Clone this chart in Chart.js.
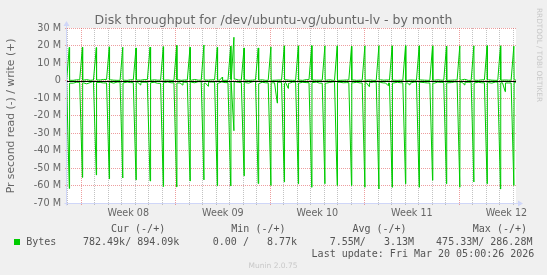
<!DOCTYPE html>
<html>
<head>
<meta charset="utf-8">
<script src="https://cdn.jsdelivr.net/npm/chart.js@4.4.1/dist/chart.umd.min.js"></script>
<style>
  html, body { margin: 0; padding: 0; background: #f0f0f0; }
  #wrap { width: 547px; height: 275px; }
</style>
</head>
<body>
<div id="wrap"><canvas id="diskChart" width="547" height="275"></canvas></div>
<script>
// x values are days counted from Monday of Week 08, y values are M bytes/s
const viewStart = -1.04;
const viewEnd = 32.21;
const weekLabels = ["Week 08", "Week 09", "Week 10", "Week 11", "Week 12"];
const weekMid = [3.5, 10.5, 17.5, 24.5, 31.5];

// quiet-time samples, one every 6 hours starting at day -1.08
const baseStart = -1.08;
const baseStep = 0.25;
const readBase = [
  -0.7,
  -1.2, -1.5, -1.0, -0.4,   -1.3, -1.9, -1.2, -0.5,   -1.6, -1.1, -1.4, -0.4,
  -1.0, -1.5, -0.9, -0.5,   -1.4, -0.9, -1.2, -0.3,   -1.2, -1.5, -1.0, -0.5,
  -1.3, -1.0, -1.6, -0.4,   -1.2, -0.8, -1.3, -0.5,   -1.4, -1.1, -1.0, -0.4,
  -1.0, -1.3, -0.7, -0.5,   -1.5, -1.4, -0.9, -0.4,   -1.5, -0.8, -1.2, -0.3,
  -1.0, -0.7, -1.1, -0.5,   -1.2, -1.5, -0.8, -0.4,   -1.8, -1.0, -1.3, -0.5,
  -1.3, -1.4, -1.0, -0.4,   -1.1, -1.6, -0.9, -0.5,   -1.4, -1.0, -1.2, -0.3,
  -1.2, -0.9, -1.5, -0.5,   -1.5, -1.1, -0.8, -0.4,   -1.0, -1.3, -1.2, -0.5,
  -1.3, -1.0, -1.4, -0.4,   -1.6, -1.2, -0.9, -0.5,   -1.1, -1.4, -1.0, -0.3,
  -1.4, -1.0, -1.3, -0.5,   -1.2, -1.5, -0.9, -0.4,   -1.0, -1.2, -1.4, -0.5,
  -1.5, -0.9, -1.1, -0.4,   -1.3, -1.2, -0.8, -0.5,   -1.1, -1.6, -1.0, -0.3,
  -1.4, -1.0, -1.3, -0.5,   -1.2, -1.5, -0.9, -0.4,   -1.3, -1.1, -1.4, -0.5,
  -1.2, -1.0, -0.8, -0.6
];
const writeBase = [
  0.2,
  0.3, 0.1, 0.4, 0.2,   0.2, 0.5, 0.1, 0.3,   0.1, 0.3, 0.6, 0.2,
  0.4, 0.2, 0.1, 0.3,   0.2, 0.1, 0.4, 0.2,   0.3, 0.2, 0.5, 0.1,
  0.1, 0.4, 0.2, 0.3,   0.2, 0.3, 0.1, 0.2,   0.4, 0.1, 0.3, 0.2,
  0.2, 0.6, 0.2, 0.1,   0.3, 0.2, 0.4, 0.2,   0.2, 0.3, 0.1, 0.3,
  0.1, 0.8, 0.3, 0.2,   0.3, 0.1, 0.2, 0.4,   0.2, 0.4, 0.1, 0.2,
  0.1, 0.2, 0.3, 0.2,   0.4, 0.2, 0.1, 0.3,   0.2, 0.1, 0.5, 0.2,
  0.3, 0.2, 0.2, 0.1,   0.2, 0.4, 0.1, 0.3,   0.1, 0.2, 0.3, 0.2,
  0.3, 0.1, 0.2, 0.4,   0.2, 0.3, 0.1, 0.2,   0.4, 0.2, 0.3, 0.1,
  0.2, 0.1, 0.2, 0.3,   0.1, 0.3, 0.2, 0.2,   0.3, 0.2, 0.1, 0.4,
  0.2, 0.4, 0.2, 0.1,   0.1, 0.2, 0.3, 0.2,   0.3, 0.7, 0.1, 0.2,
  0.2, 0.1, 0.4, 0.3,   0.4, 0.2, 0.1, 0.2,   0.2, 0.3, 0.2, 0.1,
  0.3, 0.2, 0.2, 0.2
];

// nightly jobs: read (-) and write (+) peaks
const readSpikeDays = [
  -0.87, 0.10, 1.13, 2.09, 3.09, 4.07, 5.11, 6.09, 7.08, 8.07, 9.10, 10.09,
  11.08, 12.07, 13.12, 14.06, 15.05, 16.09, 17.08, 18.06, 18.97, 20.03, 21.02,
  22.06, 23.04, 24.03, 25.04, 26.03, 27.06, 28.05, 29.09, 30.07, 31.06, 32.05,
  11.32, 14.53, 31.41, 9.42, 4.42, 7.53, 15.34, 21.34, 22.75, 24.35, 28.42
];
const readSpikeVals = [
  -61.7, -55.4, -54.0, -56.2, -55.7, -56.8, -57.4, -60.6, -60.8, -57.4, -56.8, -60.2,
  -60.2, -54.5, -58.9, -60.0, -58.0, -59.0, -61.0, -59.0, -60.0, -60.0, -61.0,
  -62.0, -61.0, -59.0, -61.0, -57.0, -59.0, -61.0, -58.0, -59.0, -62.0, -60.0,
  -28.7, -12.9, -6.4, -3.3, -2.6, -2.6, -4.5, -3.5, -3.0, -2.6, -2.6
];
const writeSpikeDays = [
  -0.87, 0.10, 1.13, 2.09, 3.09, 4.07, 5.11, 6.09, 7.08, 8.07, 9.10, 10.09,
  11.08, 12.07, 13.12, 14.06, 15.05, 16.09, 17.08, 18.06, 18.97, 20.03, 21.02,
  22.06, 23.04, 24.03, 25.04, 26.03, 27.06, 28.05, 29.09, 30.07, 31.06, 32.05,
  11.32, 10.46
];
const writeSpikeVals = [
  18.9, 19.0, 18.8, 19.2, 19.0, 18.6, 19.1, 19.3, 20.0, 19.0, 20.3, 18.9,
  19.6, 18.6, 18.6, 19.2, 19.8, 19.8, 19.9, 19.8, 19.8, 19.6, 19.8,
  19.9, 19.8, 19.9, 19.8, 19.8, 19.6, 19.8, 19.8, 19.9, 19.8, 19.6,
  24.7, 1.9
];

const chartTitle = "Disk throughput for /dev/ubuntu-vg/ubuntu-lv - by month";
const yTitle = "Pr second read (-) / write (+)";
const legendHeads = ["Cur (-/+)", "Min (-/+)", "Avg (-/+)", "Max (-/+)"];
const legendVals = ["782.49k/ 894.09k", "0.00 /   8.77k", "7.55M/   3.13M", "475.33M/ 286.28M"];
const lastUpdate = "Last update: Fri Mar 20 05:00:26 2026";

const RISE = 0.2;  // ramp before each peak, in days

function buildSeries(base, spikeDays, spikeVals) {
  const pts = base.map((v, i) => ({ x: baseStart + i * baseStep, y: v }));
  const kept = pts.filter(p => !spikeDays.some(t => p.x > t - RISE && p.x < t + 0.05));
  const out = kept.slice();
  spikeDays.forEach((t, i) => {
    let before = null, after = null;
    kept.forEach(p => {
      if (p.x <= t - RISE) before = p;
      if (!after && p.x >= t + 0.05) after = p;
    });
    out.push({ x: t - RISE, y: before ? before.y : 0 });
    out.push({ x: t, y: spikeVals[i] });
    out.push({ x: t + 0.02, y: after ? after.y : 0 });
  });
  out.sort((a, b) => a.x - b.x);
  return out;
}

const GREEN = "#00cc00";
const MINOR = "rgba(143,143,143,0.55)";
const MAJOR = "rgba(222,79,79,0.55)";

const muninDecor = {
  id: "muninDecor",
  beforeDraw(chart) {
    const { ctx, chartArea: a } = chart;
    ctx.save();
    ctx.fillStyle = "#f0f0f0";
    ctx.fillRect(0, 0, chart.width, chart.height);
    ctx.fillStyle = "#ffffff";
    ctx.fillRect(a.left, a.top, a.right - a.left, a.bottom - a.top);
    ctx.restore();
  },
  afterDatasetsDraw(chart) {
    const { ctx, chartArea: a, scales } = chart;
    const y0 = Math.round(scales.y.getPixelForValue(0)) + 0.5;
    ctx.save();
    ctx.strokeStyle = "#000000";
    ctx.lineWidth = 1;
    ctx.beginPath();
    ctx.moveTo(a.left, y0);
    ctx.lineTo(a.right, y0);
    ctx.stroke();
    ctx.restore();
  },
  afterDraw(chart) {
    const { ctx, chartArea: a, scales } = chart;
    ctx.save();

    // axes with arrows
    const ax = Math.round(a.left) - 0.5;
    const ay = Math.round(a.bottom) + 0.5;
    ctx.strokeStyle = "#CFD6F8";
    ctx.fillStyle = "#CFD6F8";
    ctx.lineWidth = 1;
    ctx.beginPath();
    ctx.moveTo(ax, ay + 2);
    ctx.lineTo(ax, a.top - 3);
    ctx.moveTo(ax - 2, ay);
    ctx.lineTo(a.right + 3, ay);
    ctx.stroke();
    ctx.beginPath();
    ctx.moveTo(ax, a.top - 7);
    ctx.lineTo(ax - 3, a.top - 2);
    ctx.lineTo(ax + 3, a.top - 2);
    ctx.closePath();
    ctx.fill();
    ctx.beginPath();
    ctx.moveTo(a.right + 7, ay);
    ctx.lineTo(a.right + 2, ay - 3);
    ctx.lineTo(a.right + 2, ay + 3);
    ctx.closePath();
    ctx.fill();

    // title
    ctx.fillStyle = "#666666";
    ctx.font = '12.5px "DejaVu Sans"';
    ctx.textAlign = "center";
    ctx.textBaseline = "alphabetic";
    ctx.fillText(chartTitle, 273.5, 24);

    // week labels
    ctx.font = '9.6px "DejaVu Sans"';
    ctx.textBaseline = "middle";
    weekLabels.forEach((lab, i) => {
      ctx.fillText(lab, scales.x.getPixelForValue(weekMid[i]), 213);
    });

    // y title
    ctx.save();
    ctx.translate(11, 116);
    ctx.rotate(-Math.PI / 2);
    ctx.font = '10.8px "DejaVu Sans"';
    ctx.fillText(yTitle, 0, 0);
    ctx.restore();

    // watermark
    ctx.save();
    ctx.translate(538.5, 8);
    ctx.rotate(Math.PI / 2);
    ctx.textAlign = "left";
    ctx.font = '7.3px "DejaVu Sans"';
    ctx.fillStyle = "#c8c8c8";
    ctx.fillText("RRDTOOL / TOBI OETIKER", 0, 0);
    ctx.restore();

    // legend block
    ctx.textAlign = "left";
    ctx.font = '10px "DejaVu Sans Mono"';
    ctx.fillStyle = "#555555";
    const headX = [111, 231.3, 352.4, 472.8];
    const valX = [83, 212.8, 329.7, 436.1];
    legendHeads.forEach((h, i) => ctx.fillText(h, headX[i], 229));
    ctx.fillText("Bytes", 26.2, 242);
    legendVals.forEach((v, i) => ctx.fillText(v, valX[i], 242));
    ctx.fillText(lastUpdate, 311.6, 254.5);
    ctx.fillStyle = GREEN;
    ctx.fillRect(14, 239, 6, 6);

    ctx.fillStyle = "#c8c8c8";
    ctx.textAlign = "center";
    ctx.font = '7.5px "DejaVu Sans"';
    ctx.fillText("Munin 2.0.75", 273, 266.5);

    ctx.restore();
  }
};

const chart = new Chart(document.getElementById("diskChart").getContext("2d"), {
  type: "line",
  data: {
    datasets: [
      {
        label: "read",
        data: buildSeries(readBase, readSpikeDays, readSpikeVals),
        borderColor: GREEN,
        borderWidth: 1,
        pointRadius: 0,
        tension: 0,
        fill: false
      },
      {
        label: "write",
        data: buildSeries(writeBase, writeSpikeDays, writeSpikeVals),
        borderColor: GREEN,
        borderWidth: 1,
        pointRadius: 0,
        tension: 0,
        fill: false
      }
    ]
  },
  options: {
    responsive: false,
    animation: false,
    devicePixelRatio: 1,
    layout: { padding: { left: 0, right: 31, top: 28, bottom: 0 } },
    plugins: { legend: { display: false }, tooltip: { enabled: false } },
    scales: {
      x: {
        type: "linear",
        min: viewStart,
        max: viewEnd,
        afterFit: s => { s.height = 72; },
        border: { display: false, dash: [1, 1] },
        grid: {
          drawTicks: true,
          tickLength: 2,
          color: c => {
            const v = c.tick.value;
            if (!Number.isInteger(v)) return "rgba(0,0,0,0)";
            return v % 7 === 0 ? MAJOR : MINOR;
          }
        },
        ticks: { display: false, stepSize: 1, maxTicksLimit: 100, includeBounds: false }
      },
      y: {
        type: "linear",
        min: -70,
        max: 30,
        afterFit: s => { s.width = 67; },
        border: { display: false, dash: [1, 1] },
        grid: {
          drawTicks: true,
          tickLength: 2,
          color: c => (c.tick.value % 10 === 0 ? MAJOR : MINOR)
        },
        ticks: {
          stepSize: 5,
          maxTicksLimit: 100,
          padding: 4,
          color: "#666666",
          font: { family: "DejaVu Sans", size: 9.7 },
          callback: v => (v % 10 !== 0 ? "" : v === 0 ? "0" : v + " M")
        }
      }
    }
  },
  plugins: [muninDecor]
});
</script>
</body>
</html>
